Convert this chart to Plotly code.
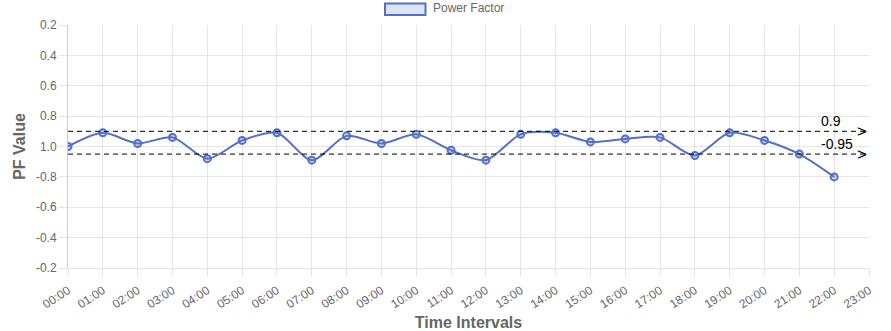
import plotly.graph_objects as go

# Hourly time slots shown on the x axis
hours = [f"{h:02d}:00" for h in range(24)]

# Signed power factor readings (positive = lagging, negative = leading)
pf_readings = [1.0, 0.91, 0.98, 0.94, -0.92, 0.96, 0.91, -0.91, 0.93, 0.98,
               0.92, -0.975, -0.91, 0.92, 0.91, 0.97, 0.95, 0.94, -0.94, 0.91,
               0.96, -0.95, -0.80]

# Threshold limits
upper_limit = 0.9
lower_limit = -0.95

# Y axis tick labels (top to bottom) and their plotted positions
y_tick_labels = ["0.2", "0.4", "0.6", "0.8", "1.0", "-0.8", "-0.6", "-0.4", "-0.2"]
y_tick_positions = [0.8, 0.6, 0.4, 0.2, 0.0, -0.2, -0.4, -0.6, -0.8]


def pf_to_axis(p):
    """Map a signed PF onto a linear scale centred on unity."""
    return 1 - p if p > 0 else -(1 + p)


plot_y = [pf_to_axis(p) for p in pf_readings]
x_idx = list(range(len(pf_readings)))

BLUE = "rgb(84,112,198)"
GRAY = "rgb(102,102,102)"
GRID = "rgb(229,229,229)"
FONT = "Liberation Sans, Arial, sans-serif"

fig = go.Figure()
fig.add_trace(go.Scatter(
    x=x_idx, y=plot_y, mode="lines+markers",
    line=dict(color=BLUE, width=2, shape="spline", smoothing=0.8),
    marker=dict(size=7, color="rgba(84,112,198,0.25)",
                line=dict(color=BLUE, width=2)),
    name="Power Factor", showlegend=False,
))

shapes = []
for lim in (upper_limit, lower_limit):
    yv = pf_to_axis(lim)
    shapes.append(dict(type="line", xref="paper", x0=0, x1=1, yref="y",
                       y0=yv, y1=yv, line=dict(color="black", width=1, dash="5px,4px")))

# Legend swatch
shapes.append(dict(type="rect", xref="paper", yref="paper",
                   x0=(385 - 68) / 801, x1=(425.5 - 68) / 801,
                   y0=(268 - 15) / 243, y1=(268 - 3.5) / 243,
                   fillcolor="rgba(84,112,198,0.2)", line=dict(color=BLUE, width=2)))

annotations = [
    dict(text="Power Factor", xref="paper", yref="paper",
         x=(431 - 68) / 801, y=(268 - 8.5) / 243, xanchor="left", yanchor="middle",
         showarrow=False, font=dict(family=FONT, size=12, color=GRAY)),
]
for lim in (upper_limit, lower_limit):
    annotations.append(dict(text=str(lim), xref="paper", yref="y", x=(819 - 68) / 801,
                            xanchor="left", y=pf_to_axis(lim), yshift=10, showarrow=False,
                            font=dict(family=FONT, size=14, color="black")))
    annotations.append(dict(text=">", xref="paper", yref="y", x=1.0, xanchor="right",
                            y=pf_to_axis(lim), showarrow=False,
                            font=dict(family=FONT, size=17, color="black")))

fig.update_layout(
    width=891, height=331,
    margin=dict(l=68, r=22, t=25, b=63),
    paper_bgcolor="white", plot_bgcolor="white",
    font=dict(family=FONT, size=12, color=GRAY),
    shapes=shapes, annotations=annotations,
    xaxis=dict(
        range=[0, 23], tickmode="array", tickvals=list(range(24)), ticktext=hours,
        tickangle=-33, showgrid=True, gridcolor=GRID, zeroline=False,
        ticks="outside", ticklen=7, tickcolor=GRID, ticklabelstandoff=3,
        showline=True, linecolor=GRID, automargin=False,
        title=dict(text="<b>Time Intervals</b>", font=dict(size=16, color=GRAY), standoff=10),
    ),
    yaxis=dict(
        range=[-0.8, 0.8], tickmode="array", tickvals=y_tick_positions, ticktext=y_tick_labels,
        showgrid=True, gridcolor=GRID, zeroline=False,
        ticks="outside", ticklen=8, tickcolor=GRID,
        showline=True, linecolor="rgb(204,204,204)", automargin=False,
        title=dict(text="<b>PF Value</b>", font=dict(size=16, color=GRAY), standoff=6),
    ),
)

fig.write_html("out.html")
